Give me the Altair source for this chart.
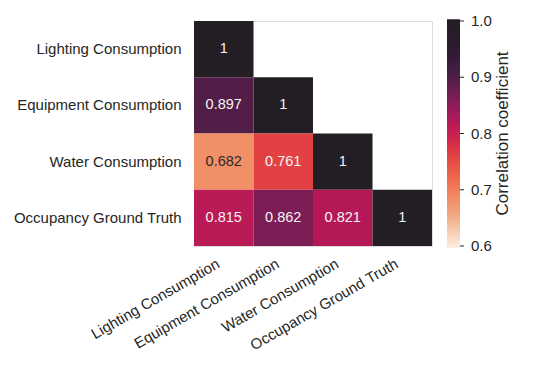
import altair as alt
import pandas as pd

labels = ["Lighting Consumption", "Equipment Consumption", "Water Consumption", "Occupancy Ground Truth"]
row_lighting = [1.0]
row_equipment = [0.897, 1.0]
row_water = [0.682, 0.761, 1.0]
row_occupancy = [0.815, 0.862, 0.821, 1.0]

legend_ticks = [0.6, 0.7, 0.8, 0.9, 1.0]
legend_title = "Correlation coefficient"
# rocket_r colour stops over the 0.6 - 1.0 range (with tiny clamped margins at both ends)
color_stops = [0.597, 0.6, 0.6571, 0.7143, 0.7714, 0.8286, 0.8857, 0.9429, 1.0, 1.003]
color_values = ["#faebdd", "#faebdd", "#f2a57f", "#f06f4d", "#df3443", "#ad1759", "#5c1e4c",
                "#2e1a33", "#231d24", "#231d24"]

rows = [row_lighting, row_equipment, row_water, row_occupancy]
records = []
for i, r in enumerate(rows):
    for j, v in enumerate(r):
        records.append({"row": labels[i], "col": labels[j], "value": v})
df = pd.DataFrame(records)

FONT = "Liberation Sans"
TXT = "#262626"
PLOT_H = 225
span = color_stops[-1] - color_stops[0]
grad_len = PLOT_H * span / 0.4
grad_y = -PLOT_H * (color_stops[-1] - 1.0) / 0.4

base = alt.Chart(df).encode(
    x=alt.X("col:N", sort=labels, title=None,
            scale=alt.Scale(domain=labels, paddingInner=0, paddingOuter=0),
            axis=alt.Axis(labelAngle=330, labelAlign="right", labelBaseline="top",
                          labelPadding=10, labelOffset=-9, ticks=False, domain=False,
                          labelFontSize=15, labelColor=TXT, labelFont=FONT, labelLimit=300)),
    y=alt.Y("row:N", sort=labels, title=None,
            scale=alt.Scale(domain=labels, paddingInner=0, paddingOuter=0),
            axis=alt.Axis(ticks=False, domain=False, labelFontSize=15, labelPadding=13,
                          labelColor=TXT, labelFont=FONT, labelLimit=300)),
)

rect = base.mark_rect().encode(
    color=alt.Color("value:Q",
                    scale=alt.Scale(domain=color_stops, range=color_values, clamp=True),
                    legend=alt.Legend(
                        title=None, values=legend_ticks, format=".1f",
                        orient="none", legendX=253, legendY=grad_y, direction="vertical",
                        gradientLength=grad_len, gradientThickness=13, gradientStrokeWidth=0,
                        labelFontSize=15, labelColor=TXT, labelFont=FONT, labelOffset=11,
                        labelOverlap=False))
)

text = base.mark_text(fontSize=14.5, font=FONT).encode(
    text=alt.Text("value:Q", format=".3~g"),
    color=alt.condition(alt.datum.value < 0.72, alt.value("#2a2a2a"), alt.value("#f4f4f4")),
)

heat = alt.layer(rect, text)

# small tick marks beside the colour bar
cb_ticks = alt.Chart(pd.DataFrame({"v": legend_ticks})).mark_rule(
    color=TXT, strokeWidth=1
).encode(
    y=alt.Y("v:Q", scale=alt.Scale(domain=[0.6, 1.0]), axis=None),
    x=alt.value(266), x2=alt.value(270),
)

title = alt.Chart(pd.DataFrame({"t": [legend_title]})).mark_text(
    angle=270, fontSize=17, font=FONT, color=TXT, baseline="middle", align="center"
).encode(x=alt.value(309), y=alt.value(112.5), text="t:N")

chart = alt.layer(heat, cb_ticks, title).resolve_scale(y="independent").properties(
    width=238, height=PLOT_H,
    autosize=alt.AutoSizeParams(type="none"),
    padding={"left": 186, "top": 13, "right": 110, "bottom": 114},
).configure_view(stroke=None).configure(background="white")

chart.save("out.html", embed_options={"renderer": "svg", "actions": False})
